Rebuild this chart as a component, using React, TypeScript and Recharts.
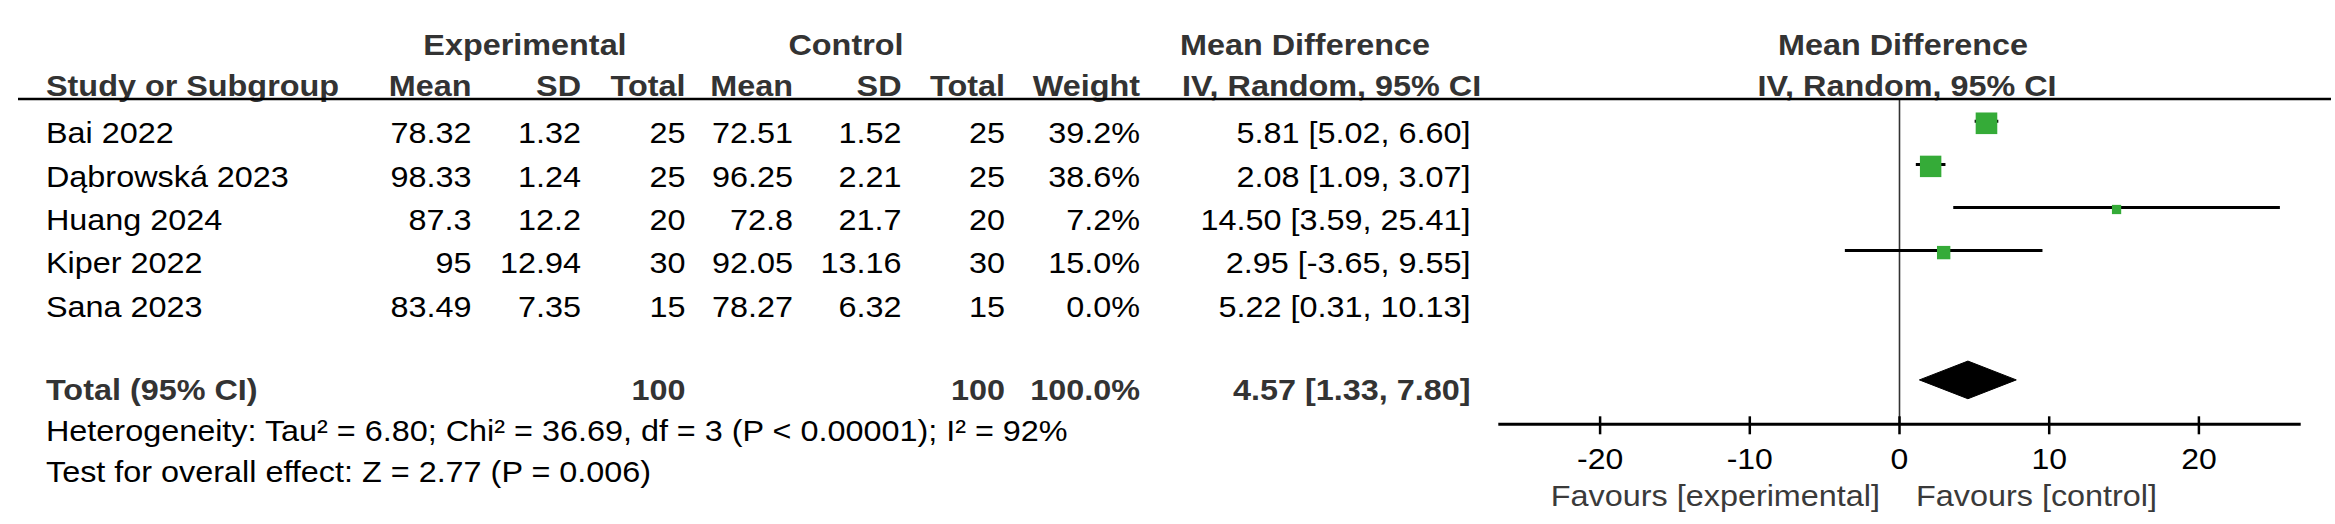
import React from "react";
import { ComposedChart, ReferenceLine, Scatter, XAxis, YAxis } from "recharts";

// study rows
const STUDIES = ["Bai 2022", "Dąbrowská 2023", "Huang 2024", "Kiper 2022", "Sana 2023"];
const EXP_MEAN = ["78.32", "98.33", "87.3", "95", "83.49"];
const EXP_SD = ["1.32", "1.24", "12.2", "12.94", "7.35"];
const EXP_TOTAL = [25, 25, 20, 30, 15];
const CTL_MEAN = ["72.51", "96.25", "72.8", "92.05", "78.27"];
const CTL_SD = ["1.52", "2.21", "21.7", "13.16", "6.32"];
const CTL_TOTAL = [25, 25, 20, 30, 15];
const WEIGHT = [39.2, 38.6, 7.2, 15.0, 0.0];
const MD = [5.81, 2.08, 14.5, 2.95, 5.22];
const CI_LOW = [5.02, 1.09, 3.59, -3.65, 0.31];
const CI_HIGH = [6.6, 3.07, 25.41, 9.55, 10.13];

// pooled result
const TOTAL_ROW = 6;
const TOTAL_EXP = 100;
const TOTAL_CTL = 100;
const TOTAL_WEIGHT = 100.0;
const TOTAL_MD = 4.57;
const TOTAL_LOW = 1.33;
const TOTAL_HIGH = 7.8;

const HETEROGENEITY = "Heterogeneity: Tau² = 6.80; Chi² = 36.69, df = 3 (P < 0.00001); I² = 92%";
const OVERALL = "Test for overall effect: Z = 2.77 (P = 0.006)";

const X_TICKS = [-20, -10, 0, 10, 20];

const W = 2335;
const H = 524;
const FONT = "'Liberation Sans', Arial, Helvetica, sans-serif";
const FS = 30.4;
const SX = 1.065;
const GREEN = "#35ab38";
const HEAD = "#333333";

const fmt = (v: number) => v.toFixed(2);
const ciText = (m: number, lo: number, hi: number) => `${fmt(m)} [${fmt(lo)}, ${fmt(hi)}]`;

function T({
  x,
  y,
  anchor = "start",
  bold = false,
  color = "#000",
  size = FS,
  children,
}: {
  x: number;
  y: number;
  anchor?: "start" | "middle" | "end";
  bold?: boolean;
  color?: string;
  size?: number;
  children: React.ReactNode;
}) {
  return (
    <text
      transform={`translate(${x} ${y}) scale(${SX} 1)`}
      textAnchor={anchor}
      fontFamily={FONT}
      fontSize={size}
      fontWeight={bold ? 700 : 400}
      fill={color}
    >
      {children}
    </text>
  );
}

const COLS = {
  expMean: 471.5,
  expSd: 581,
  expTotal: 685.5,
  ctlMean: 793,
  ctlSd: 901.5,
  ctlTotal: 1005,
  weight: 1140,
  md: 1470.5,
};

const rowBaseline = (i: number) => 143.3 + i * 43.33;

function Table() {
  return (
    <svg
      width={W}
      height={H}
      style={{ position: "absolute", left: 0, top: 0, pointerEvents: "none" }}
    >
      {/* group headers */}
      <T x={525} y={55} anchor="middle" bold color={HEAD}>Experimental</T>
      <T x={846} y={55} anchor="middle" bold color={HEAD}>Control</T>
      <T x={1180} y={55} bold color={HEAD}>Mean Difference</T>
      <T x={1903} y={55} anchor="middle" bold color={HEAD}>Mean Difference</T>

      <T x={46} y={96} bold color={HEAD}>Study or Subgroup</T>
      <T x={COLS.expMean} y={96} anchor="end" bold color={HEAD}>Mean</T>
      <T x={COLS.expSd} y={96} anchor="end" bold color={HEAD}>SD</T>
      <T x={COLS.expTotal} y={96} anchor="end" bold color={HEAD}>Total</T>
      <T x={COLS.ctlMean} y={96} anchor="end" bold color={HEAD}>Mean</T>
      <T x={COLS.ctlSd} y={96} anchor="end" bold color={HEAD}>SD</T>
      <T x={COLS.ctlTotal} y={96} anchor="end" bold color={HEAD}>Total</T>
      <T x={COLS.weight} y={96} anchor="end" bold color={HEAD}>Weight</T>
      <T x={1182} y={96} bold color={HEAD}>IV, Random, 95% CI</T>
      <T x={1907} y={96} anchor="middle" bold color={HEAD}>IV, Random, 95% CI</T>

      <line x1={18} x2={2331} y1={99} y2={99} stroke="#000" strokeWidth={2.5} />

      {STUDIES.map((s, i) => {
        const y = rowBaseline(i);
        return (
          <g key={s}>
            <T x={46} y={y}>{s}</T>
            <T x={COLS.expMean} y={y} anchor="end">{EXP_MEAN[i]}</T>
            <T x={COLS.expSd} y={y} anchor="end">{EXP_SD[i]}</T>
            <T x={COLS.expTotal} y={y} anchor="end">{EXP_TOTAL[i]}</T>
            <T x={COLS.ctlMean} y={y} anchor="end">{CTL_MEAN[i]}</T>
            <T x={COLS.ctlSd} y={y} anchor="end">{CTL_SD[i]}</T>
            <T x={COLS.ctlTotal} y={y} anchor="end">{CTL_TOTAL[i]}</T>
            <T x={COLS.weight} y={y} anchor="end">{WEIGHT[i].toFixed(1)}%</T>
            <T x={COLS.md} y={y} anchor="end">{ciText(MD[i], CI_LOW[i], CI_HIGH[i])}</T>
          </g>
        );
      })}

      <T x={46} y={400} bold color={HEAD}>Total (95% CI)</T>
      <T x={COLS.expTotal} y={400} anchor="end" bold color={HEAD}>{TOTAL_EXP}</T>
      <T x={COLS.ctlTotal} y={400} anchor="end" bold color={HEAD}>{TOTAL_CTL}</T>
      <T x={COLS.weight} y={400} anchor="end" bold color={HEAD}>{TOTAL_WEIGHT.toFixed(1)}%</T>
      <T x={COLS.md} y={400} anchor="end" bold color={HEAD}>
        {ciText(TOTAL_MD, TOTAL_LOW, TOTAL_HIGH)}
      </T>

      <T x={46} y={441}>{HETEROGENEITY}</T>
      <T x={46} y={481.7}>{OVERALL}</T>

      <T x={1880} y={506} anchor="end" color="#3a3a3a">Favours [experimental]</T>
      <T x={1916} y={506} anchor="start" color="#3a3a3a">Favours [control]</T>
    </svg>
  );
}

const squares = STUDIES.map((s, i) => ({ name: s, x: MD[i], y: i, w: WEIGHT[i] })).filter(
  (d) => d.w > 0,
);

// CI whiskers, one two-point series per study (drawn before the squares)
const whiskers = squares.map((d) => {
  const i = STUDIES.indexOf(d.name);
  return {
    name: d.name,
    points: [
      { x: CI_LOW[i], y: i },
      { x: CI_HIGH[i], y: i },
    ],
  };
});

const diamondHalf = 0.437;
const diamond = [
  { x: TOTAL_LOW, y: TOTAL_ROW },
  { x: TOTAL_MD, y: TOTAL_ROW - diamondHalf },
  { x: TOTAL_HIGH, y: TOTAL_ROW },
  { x: TOTAL_MD, y: TOTAL_ROW + diamondHalf },
  { x: TOTAL_LOW, y: TOTAL_ROW },
];

function SquareShape(props: any) {
  const { cx, cy, payload } = props;
  if (cx == null || cy == null) return <g />;
  const s = 3.45 * Math.sqrt(payload.w);
  return <rect x={cx - s / 2} y={cy + 2 - s / 2} width={s} height={s} fill={GREEN} />;
}

function AxisTick(props: any) {
  const { x, y, payload } = props;
  return (
    <g>
      <line x1={x} x2={x} y1={y - 8} y2={y + 10} stroke="#000" strokeWidth={2.5} />
      <text
        transform={`translate(${x} ${y + 45}) scale(${SX} 1)`}
        textAnchor="middle"
        fontFamily={FONT}
        fontSize={30}
        fill="#000"
      >
        {payload.value}
      </text>
    </g>
  );
}

export default function App() {
  return (
    <div
      style={{
        position: "absolute",
        left: 0,
        top: 0,
        width: W,
        height: H,
        background: "#fff",
        overflow: "hidden",
      }}
    >
      <ComposedChart
        width={W}
        height={H}
        margin={{ top: 99, right: 34.3, left: 1498.3, bottom: 69.7 }}
      >
        <XAxis
          type="number"
          dataKey="x"
          domain={[-26.8, 26.8]}
          ticks={X_TICKS}
          interval={0}
          allowDataOverflow
          height={30}
          tickSize={0}
          tickMargin={0}
          tickLine={false}
          axisLine={{ stroke: "#000", strokeWidth: 3 }}
          tick={<AxisTick />}
        />
        <YAxis type="number" dataKey="y" domain={[-0.517, 7.03]} reversed hide allowDataOverflow />
        <ReferenceLine x={0} stroke="#333" strokeWidth={1.6} />
        {whiskers.map((wk) => (
          <Scatter
            key={wk.name}
            data={wk.points}
            shape={() => <g />}
            line={{ stroke: "#000", strokeWidth: 3 }}
            lineType="joint"
            lineJointType="linear"
            fill="#000"
            isAnimationActive={false}
          />
        ))}
        <Scatter data={squares} shape={<SquareShape />} isAnimationActive={false} />
        <Scatter
          data={diamond}
          shape={() => <g />}
          line={{ fill: "#000", stroke: "#000", strokeWidth: 1 }}
          lineType="joint"
          lineJointType="linear"
          fill="#000"
          isAnimationActive={false}
        />
      </ComposedChart>
      <Table />
    </div>
  );
}
